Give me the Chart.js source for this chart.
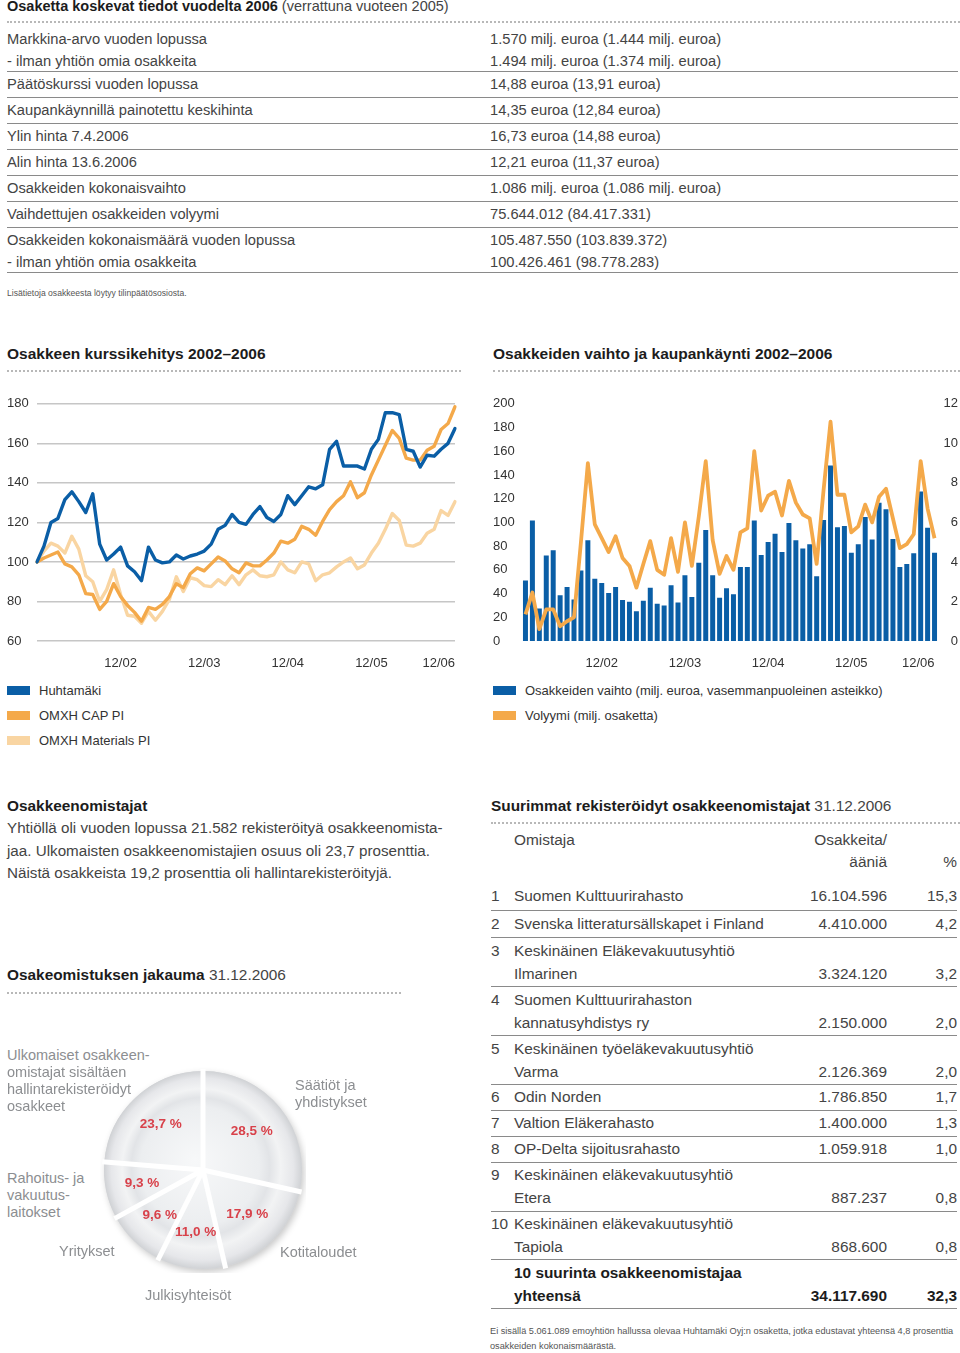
<!DOCTYPE html>
<html lang="fi">
<head>
<meta charset="utf-8">
<title>Osakkeet ja osakkeenomistajat 2006</title>
<script src="https://cdn.jsdelivr.net/npm/chart.js@4.4.1/dist/chart.umd.min.js"></script>
<style>
  html, body { margin: 0; padding: 0; background: #fff; }
  body { width: 960px; height: 1353px; position: relative; overflow: hidden;
         font-family: "Liberation Sans", Arial, Helvetica, sans-serif; color: #444; }
  .a { position: absolute; white-space: nowrap; line-height: 18px; }
  .t  { font-size: 14.7px; }
  .h1 { font-size: 14.5px; color: #444; }
  .h1 b, .h3 b { color: #1c1c1c; }
  .h2 { font-size: 15.5px; font-weight: bold; color: #1c1c1c; }
  .h3 { font-size: 15.4px; color: #444; }
  .p  { font-size: 15.2px; }
  .r  { font-size: 15.4px; }
  .rb { font-size: 15.4px; font-weight: bold; color: #1c1c1c; }
  .s  { font-size: 8.6px; color: #555; }
  .fn { font-size: 9.2px; color: #555; }
  .pl { font-size: 14.5px; color: #8c8e91; }
  .lg { font-size: 13px; color: #333; }
  .sw { position: absolute; width: 23px; height: 9px; }
  .dots { position: absolute; height: 0; border-top: 2px dotted #b8b8b8; }
  .rule { position: absolute; height: 0; border-top: 1.5px solid #8a8a8a; }
  .box { position: absolute; }
</style>
</head>
<body>

<div class="box" style="left:7px; top:393px; width:452px; height:282px;">
  <canvas id="priceChart" width="452" height="282"></canvas>
</div>
<div class="box" style="left:493px; top:393px; width:465px; height:282px;">
  <canvas id="tradeChart" width="465" height="282"></canvas>
</div>
<div class="box" style="left:100px; top:1067px; width:206px; height:206px;">
  <canvas id="ownerChart" width="206" height="206"></canvas>
</div>

<script>
// ---------- data ----------
const tickLabels = ['12/02', '12/03', '12/04', '12/05', '12/06'];

// Osakkeen kurssikehitys, kuukausittain 12/01–12/06 (12/01 = 100)
const huhtamaki = [100, 108, 120, 122, 131.5, 135.5, 130.5, 125, 134.5, 109,
  101, 104, 107.5, 98, 95, 90.5, 107.5, 101, 99.5, 100,
  103.5, 101.5, 103, 104, 105.5, 109, 116.5, 118.5, 124, 120,
  119, 124, 128, 122.5, 120.5, 124, 133.5, 129, 133.5, 138,
  137, 139, 157, 161, 148.5, 148.5, 148.5, 147, 157, 162,
  175.5, 175.5, 174.5, 157, 156, 148, 154, 153.5, 157, 160, 167.5];
const omxhCapPi = [100, 102, 103.5, 105, 99, 97.5, 93.5, 84, 83.5, 76,
  80, 89, 82.5, 78, 74.5, 70, 77, 76, 78.5, 82.5,
  89, 87, 94, 97, 95.5, 99, 102.5, 100.5, 96.5, 94.5,
  99.5, 98, 98, 101, 104.5, 110.5, 109.5, 111.5, 118, 116.5,
  113.5, 120.5, 126.5, 130.5, 133.5, 140.5, 132.5, 135, 144, 151.5,
  159, 166.5, 162.5, 152.5, 151.5, 151.5, 156.5, 158.5, 167, 170, 178.5];
const omxhMaterialsPi = [100, 105.5, 109.5, 108, 104.5, 113, 106.5, 93, 90, 80,
  86, 96, 83.5, 73, 72.5, 69, 75, 70.5, 75, 81,
  92.5, 85, 92, 91, 88, 87.5, 91, 88.5, 93, 88.5,
  93.5, 96, 93, 92.5, 93.5, 100, 96, 94.5, 100, 99,
  90.5, 93.5, 94.5, 97.5, 100, 102, 96.5, 98.5, 104.5, 109.5,
  116.5, 124.5, 121, 108.5, 108, 109.5, 114.5, 116.5, 126, 123.5, 130.5];

// Osakkeiden vaihto (milj. euroa) ja volyymi (milj. osaketta), kuukausittain 1/02–12/06
const vaihto = [51, 101.5, 27.5, 72, 76.5, 38.5, 45.5, 35, 59.5, 85,
  52.5, 49, 40.5, 45.5, 34.5, 33, 25, 34, 45, 31.5,
  30, 47, 32.5, 55.5, 37, 66, 93.5, 55.5, 36.5, 44.5,
  39.5, 62.5, 62.5, 101.5, 72.5, 83.5, 90.5, 75, 99.5, 85,
  78, 81.5, 54.5, 102, 148, 96, 97, 74.5, 81.5, 104.5,
  85.5, 116.5, 111, 86, 62.5, 65, 74, 126, 95.5, 74.5];
const volyymi = [1.35, 2.45, 0.6, 1.6, 1.6, 0.75, 1.0, 1.2, 5.0, 9.0,
  5.9, 5.2, 4.5, 5.3, 4.2, 3.8, 2.7, 3.9, 5.05, 3.6,
  3.35, 5.2, 3.5, 6.0, 3.8, 6.3, 9.1, 5.1, 3.4, 4.3,
  3.6, 5.5, 5.7, 9.6, 6.6, 7.35, 7.55, 6.35, 8.1, 7.0,
  6.4, 6.2, 3.9, 7.65, 11.1, 7.4, 7.4, 5.5, 5.8, 6.9,
  6.0, 7.3, 7.7, 6.2, 4.7, 4.9, 5.4, 9.1, 6.7, 5.2];

// Osakeomistuksen jakauma 31.12.2006 (%)
const ownerGroups = ['Säätiöt ja yhdistykset', 'Kotitaloudet', 'Julkisyhteisöt', 'Yritykset',
  'Rahoitus- ja vakuutuslaitokset', 'Ulkomaiset osakkeenomistajat sisältäen hallintarekisteröidyt osakkeet'];
const ownerShares = [28.5, 17.9, 11.0, 9.6, 9.3, 23.7];

const BLUE = '#0a5ea6';
const ORANGE = '#f4a94a';
const PALE = '#f9d5a2';
const TEXT = '#333';
const FONT = '"Liberation Sans", Arial, sans-serif';

// ---------- page text ----------
function put(html, x, cy, cls, align) {
  const d = document.createElement('div');
  d.className = 'a ' + cls;
  d.innerHTML = html;
  d.style.top = (cy - 9) + 'px';
  if (align === 'right') d.style.right = (960 - x) + 'px';
  else d.style.left = x + 'px';
  document.body.appendChild(d);
  return d;
}
function line(cls, x1, x2, y) {
  const d = document.createElement('div');
  d.className = cls;
  d.style.left = x1 + 'px';
  d.style.width = (x2 - x1) + 'px';
  d.style.top = y + 'px';
  document.body.appendChild(d);
}

// top table
put('<b>Osaketta koskevat tiedot vuodelta 2006</b> (verrattuna vuoteen 2005)', 7, 6, 'h1');
line('dots', 7, 960, 21);
const infoRows = [
  ['Markkina-arvo vuoden lopussa', '1.570 milj. euroa (1.444 milj. euroa)', 39],
  ['- ilman yhtiön omia osakkeita', '1.494 milj. euroa (1.374 milj. euroa)', 61],
  ['Päätöskurssi vuoden lopussa', '14,88 euroa (13,91 euroa)', 84],
  ['Kaupankäynnillä painotettu keskihinta', '14,35 euroa (12,84 euroa)', 110],
  ['Ylin hinta 7.4.2006', '16,73 euroa (14,88 euroa)', 136],
  ['Alin hinta 13.6.2006', '12,21 euroa (11,37 euroa)', 162],
  ['Osakkeiden kokonaisvaihto', '1.086 milj. euroa (1.086 milj. euroa)', 188],
  ['Vaihdettujen osakkeiden volyymi', '75.644.012 (84.417.331)', 214],
  ['Osakkeiden kokonaismäärä vuoden lopussa', '105.487.550 (103.839.372)', 240],
  ['- ilman yhtiön omia osakkeita', '100.426.461 (98.778.283)', 262]
];
infoRows.forEach(r => { put(r[0], 7, r[2], 't'); put(r[1], 490, r[2], 't'); });
[71, 97, 123, 149, 175, 201, 227, 272].forEach(y => line('rule', 7, 958, y));
put('Lisätietoja osakkeesta löytyy tilinpäätösosiosta.', 7, 293, 's');

// chart headings
put('Osakkeen kurssikehitys 2002–2006', 7, 354, 'h2');
line('dots', 7, 461, 370);
put('Osakkeiden vaihto ja kaupankäynti 2002–2006', 493, 354, 'h2');
line('dots', 493, 960, 370);

// shareholders text
put('<b>Osakkeenomistajat</b>', 7, 806, 'h3');
put('Yhtiöllä oli vuoden lopussa 21.582 rekisteröityä osakkeenomista-', 7, 828, 'p');
put('jaa. Ulkomaisten osakkeenomistajien osuus oli 23,7 prosenttia.', 7, 851, 'p');
put('Näistä osakkeista 19,2 prosenttia oli hallintarekisteröityjä.', 7, 873, 'p');

put('<b>Osakeomistuksen jakauma</b> 31.12.2006', 7, 975, 'h3');
line('dots', 7, 401, 992);

// pie category labels (display lines)
const ownerLabelLines = [
  ['Säätiöt ja', 'yhdistykset'],
  ['Kotitaloudet'],
  ['Julkisyhteisöt'],
  ['Yritykset'],
  ['Rahoitus- ja', 'vakuutus-', 'laitokset'],
  ['Ulkomaiset osakkeen-', 'omistajat sisältäen', 'hallintarekisteröidyt', 'osakkeet']
];
const ownerLabelPos = [[295, 1085], [280, 1252], [145, 1295], [59, 1251], [7, 1178], [7, 1055]];
ownerLabelLines.forEach((lines, i) => {
  lines.forEach((t, k) => put(t, ownerLabelPos[i][0], ownerLabelPos[i][1] + k * 17, 'pl'));
});

// largest shareholders table
put('<b>Suurimmat rekisteröidyt osakkeenomistajat</b> 31.12.2006', 491, 806, 'h3');
line('dots', 491, 960, 822);
put('Omistaja', 514, 840, 'r');
put('Osakkeita/', 887, 840, 'r', 'right');
put('ääniä', 887, 862, 'r', 'right');
put('%', 957, 862, 'r', 'right');
const holders = [
  ['1', ['Suomen Kulttuurirahasto'], '16.104.596', '15,3', 896, 910],
  ['2', ['Svenska litteratursällskapet i Finland'], '4.410.000', '4,2', 924, 937],
  ['3', ['Keskinäinen Eläkevakuutusyhtiö', 'Ilmarinen'], '3.324.120', '3,2', 951, 986],
  ['4', ['Suomen Kulttuurirahaston', 'kannatusyhdistys ry'], '2.150.000', '2,0', 1000, 1035],
  ['5', ['Keskinäinen työeläkevakuutusyhtiö', 'Varma'], '2.126.369', '2,0', 1049, 1084],
  ['6', ['Odin Norden'], '1.786.850', '1,7', 1097, 1110],
  ['7', ['Valtion Eläkerahasto'], '1.400.000', '1,3', 1123, 1136],
  ['8', ['OP-Delta sijoitusrahasto'], '1.059.918', '1,0', 1149, 1162],
  ['9', ['Keskinäinen eläkevakuutusyhtiö', 'Etera'], '887.237', '0,8', 1175, 1211],
  ['10', ['Keskinäinen eläkevakuutusyhtiö', 'Tapiola'], '868.600', '0,8', 1224, 1259]
];
holders.forEach(h => {
  const y0 = h[4];
  const yl = y0 + (h[1].length - 1) * 22.5;
  put(h[0], 491, y0, 'r');
  h[1].forEach((t, k) => put(t, 514, y0 + k * 22.5, 'r'));
  put(h[2], 887, yl, 'r', 'right');
  put(h[3], 957, yl, 'r', 'right');
  line('rule', 491, 957, h[5]);
});
put('10 suurinta osakkeenomistajaa', 514, 1273, 'rb');
put('yhteensä', 514, 1296, 'rb');
put('34.117.690', 887, 1296, 'rb', 'right');
put('32,3', 957, 1296, 'rb', 'right');
line('rule', 491, 957, 1308);
put('Ei sisällä 5.061.089 emoyhtiön hallussa olevaa Huhtamäki Oyj:n osaketta, jotka edustavat yhteensä 4,8 prosenttia', 490, 1331, 'fn');
put('osakkeiden kokonaismäärästä.', 490, 1346, 'fn');

// ---------- charts ----------
function monthLabels(year, month, count) {
  const out = [];
  for (let i = 0; i < count; i++) {
    out.push(month + '/' + String(year).padStart(2, '0'));
    month++;
    if (month > 12) { month = 1; year++; }
  }
  return out;
}
const priceMonths = monthLabels(1, 12, 61);
const tradeMonths = monthLabels(2, 1, 60);

const axisFont = { family: FONT, size: 13 };
function xAxis(offset) {
  return {
    offset: offset,
    grid: { display: false, drawTicks: false },
    border: { display: false },
    ticks: {
      autoSkip: false, maxRotation: 0, align: 'inner', padding: 15, color: TEXT, font: axisFont,
      callback(v) { const l = this.getLabelForValue(v); return tickLabels.includes(l) ? l : ''; }
    },
    // keep the plot edges where the axes put them, tick padding must not squeeze it
    afterFit(s) { s.height = 34; s.paddingLeft = 0; s.paddingRight = 0; }
  };
}

function buildLegend(chart, x, y0) {
  chart.data.datasets.forEach((ds, i) => {
    const cy = y0 + i * 25;
    const sw = document.createElement('div');
    sw.className = 'sw';
    sw.style.left = x + 'px';
    sw.style.top = (cy - 4) + 'px';
    sw.style.background = ds.backgroundColor;
    document.body.appendChild(sw);
    put(ds.label, x + 32, cy + 1, 'lg');
  });
}

const priceChart = new Chart(document.getElementById('priceChart'), {
  type: 'line',
  data: {
    labels: priceMonths,
    datasets: [
      { label: 'Huhtamäki', data: huhtamaki, borderColor: BLUE, backgroundColor: BLUE },
      { label: 'OMXH CAP PI', data: omxhCapPi, borderColor: ORANGE, backgroundColor: ORANGE },
      { label: 'OMXH Materials PI', data: omxhMaterialsPi, borderColor: PALE, backgroundColor: PALE }
    ]
  },
  options: {
    responsive: false,
    animation: false,
    layout: { padding: { top: 10, right: 4, left: 0, bottom: 0 } },
    elements: {
      point: { radius: 0, hoverRadius: 0 },
      line: { borderWidth: 3.4, tension: 0, borderJoinStyle: 'round', borderCapStyle: 'round' }
    },
    plugins: { legend: { display: false }, tooltip: { enabled: false } },
    scales: {
      x: xAxis(false),
      y: {
        min: 60, max: 180,
        grid: { color: '#c6c6c6', lineWidth: 1.6, drawTicks: false },
        border: { display: false },
        ticks: { stepSize: 20, crossAlign: 'far', padding: 3, color: TEXT, font: axisFont },
        afterFit(s) { s.width = 30; }
      }
    }
  }
});
buildLegend(priceChart, 7, 690);

const tradeChart = new Chart(document.getElementById('tradeChart'), {
  type: 'bar',
  data: {
    labels: tradeMonths,
    datasets: [
      { type: 'bar', label: 'Osakkeiden vaihto (milj. euroa, vasemmanpuoleinen asteikko)', data: vaihto,
        backgroundColor: BLUE, yAxisID: 'y', order: 2, barPercentage: 0.72, categoryPercentage: 1 },
      { type: 'line', label: 'Volyymi (milj. osaketta)', data: volyymi, borderColor: ORANGE,
        backgroundColor: ORANGE, yAxisID: 'y1', order: 1, borderWidth: 3.8, pointRadius: 0,
        tension: 0, borderJoinStyle: 'round' }
    ]
  },
  options: {
    responsive: false,
    animation: false,
    layout: { padding: { top: 10, right: 0, left: 0, bottom: 0 } },
    plugins: { legend: { display: false }, tooltip: { enabled: false } },
    scales: {
      x: xAxis(true),
      y: {
        position: 'left', min: 0, max: 200,
        grid: { display: false, drawTicks: false }, border: { display: false },
        ticks: { stepSize: 20, crossAlign: 'far', padding: 3, color: TEXT, font: axisFont },
        afterFit(s) { s.width = 29; }
      },
      y1: {
        position: 'right', min: 0, max: 12,
        grid: { display: false, drawTicks: false }, border: { display: false },
        ticks: { stepSize: 2, crossAlign: 'far', padding: 3, color: TEXT, font: axisFont },
        afterFit(s) { s.width = 20; }
      }
    }
  }
});
buildLegend(tradeChart, 493, 690);

// plate-like pie: shadow under, white gaps and red percentages on top
const platePlugin = {
  id: 'plate',
  beforeDatasetsDraw(chart) {
    const a = chart.getDatasetMeta(0).data[0];
    if (!a) return;
    const p = a.getProps(['x', 'y', 'outerRadius'], true);
    const ctx = chart.ctx;
    ctx.save();
    ctx.shadowColor = 'rgba(0,0,0,0.22)';
    ctx.shadowBlur = 7;
    ctx.shadowOffsetX = 2;
    ctx.shadowOffsetY = 3;
    ctx.beginPath();
    ctx.arc(p.x, p.y, p.outerRadius, 0, Math.PI * 2);
    ctx.fillStyle = '#dcdde0';
    ctx.fill();
    ctx.restore();
  },
  afterDatasetsDraw(chart) {
    const ctx = chart.ctx;
    const arcs = chart.getDatasetMeta(0).data;
    ctx.save();
    ctx.strokeStyle = '#fff';
    ctx.lineWidth = 5;
    arcs.forEach(a => {
      const p = a.getProps(['x', 'y', 'startAngle', 'outerRadius'], true);
      ctx.beginPath();
      ctx.moveTo(p.x, p.y);
      ctx.lineTo(p.x + Math.cos(p.startAngle) * (p.outerRadius + 2), p.y + Math.sin(p.startAngle) * (p.outerRadius + 2));
      ctx.stroke();
    });
    ctx.fillStyle = '#d8414a';
    ctx.font = 'bold 13.5px ' + FONT;
    ctx.textAlign = 'center';
    ctx.textBaseline = 'middle';
    arcs.forEach((a, i) => {
      const p = a.getProps(['x', 'y', 'startAngle', 'endAngle', 'outerRadius'], true);
      const mid = (p.startAngle + p.endAngle) / 2;
      const r = p.outerRadius * 0.63;
      const txt = ownerShares[i].toFixed(1).replace('.', ',') + ' %';
      ctx.fillText(txt, p.x + Math.cos(mid) * r, p.y + Math.sin(mid) * r);
    });
    ctx.restore();
  }
};

new Chart(document.getElementById('ownerChart'), {
  type: 'pie',
  data: {
    labels: ownerGroups,
    datasets: [{
      data: ownerShares,
      borderWidth: 0,
      hoverOffset: 0,
      backgroundColor(c) {
        const area = c.chart.chartArea;
        if (!area) return '#e6e7e9';
        const cx = (area.left + area.right) / 2, cy = (area.top + area.bottom) / 2;
        const r = Math.min(area.width, area.height) / 2;
        const g = c.chart.ctx.createRadialGradient(cx - r * 0.08, cy - r * 0.1, 0, cx, cy, r);
        g.addColorStop(0, '#f7f8f9');
        g.addColorStop(0.6, '#eceef0');
        g.addColorStop(0.7, '#e2e4e7');
        g.addColorStop(0.8, '#f2f3f4');
        g.addColorStop(0.92, '#e6e7ea');
        g.addColorStop(1, '#d0d2d5');
        return g;
      }
    }]
  },
  options: {
    responsive: false,
    animation: false,
    layout: { padding: 4 },
    plugins: { legend: { display: false }, tooltip: { enabled: false } }
  },
  plugins: [platePlugin]
});
</script>
</body>
</html>
